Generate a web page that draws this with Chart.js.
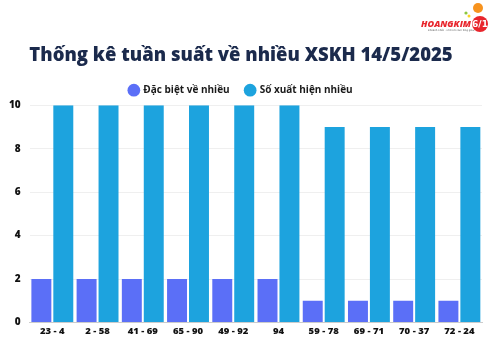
<!DOCTYPE html>
<html>
<head>
<meta charset="utf-8">
<script src="https://cdn.jsdelivr.net/npm/chart.js@4"></script>
<style>
  html, body { margin: 0; padding: 0; background: #ffffff; }
  #wrap { width: 495px; height: 345px; position: relative; }
</style>
</head>
<body>
<div id="wrap"><canvas id="c" width="495" height="345"></canvas></div>
<script>
const categories = ['23 - 4', '2 - 58', '41 - 69', '65 - 90', '49 - 92', '94', '59 - 78', '69 - 71', '70 - 37', '72 - 24'];
const specialCounts = [2, 2, 2, 2, 2, 2, 1, 1, 1, 1];
const appearCounts = [10, 10, 10, 10, 10, 10, 9, 9, 9, 9];
const yTicks = [0, 2, 4, 6, 8, 10];

// Brand mark in the top-right corner
const logoPlugin = {
  id: 'logo',
  afterDraw(chart) {
    const ctx = chart.ctx;
    ctx.save();
    ctx.fillStyle = '#f7931e';
    ctx.beginPath(); ctx.arc(478, 8, 5, 0, Math.PI * 2); ctx.fill();
    ctx.fillStyle = '#8cc63f';
    ctx.beginPath(); ctx.arc(466, 13, 1.6, 0, Math.PI * 2); ctx.fill();
    ctx.fillStyle = '#f9d423';
    ctx.beginPath(); ctx.arc(469, 16, 1.5, 0, Math.PI * 2); ctx.fill();
    ctx.fillStyle = '#e8262d';
    ctx.beginPath(); ctx.arc(480, 24, 8, 0, Math.PI * 2); ctx.fill();
    ctx.fillStyle = '#ffffff';
    ctx.font = 'bold 9px "DejaVu Sans"';
    ctx.textAlign = 'center'; ctx.textBaseline = 'middle';
    ctx.fillText('6/1', 480, 24.5);
    ctx.fillStyle = '#e8262d';
    ctx.font = 'italic 800 9px "Open Sans"';
    ctx.textAlign = 'right';
    ctx.fillText('HOANGKIM', 471, 24.5);
    ctx.fillStyle = '#555555';
    ctx.font = '2.5px "DejaVu Sans"';
    ctx.textAlign = 'left';
    ctx.fillText('Khoảnh khắc · Chớ trò cảm lòng giàu', 428, 30);
    ctx.restore();
  }
};

new Chart(document.getElementById('c'), {
  type: 'bar',
  data: {
    labels: categories,
    datasets: [
      {
        label: 'Đặc biệt về nhiều',
        data: specialCounts,
        backgroundColor: '#5b6ff7',
        borderWidth: 0,
        categoryPercentage: 0.97,
        barPercentage: 0.91
      },
      {
        label: 'Số xuất hiện nhiều',
        data: appearCounts,
        backgroundColor: '#1da3de',
        borderWidth: 0,
        categoryPercentage: 0.97,
        barPercentage: 0.91
      }
    ]
  },
  options: {
    responsive: false,
    animation: false,
    layout: { padding: { left: 0, right: 13, top: 0, bottom: 5 } },
    plugins: {
      title: {
        display: true,
        text: 'Thống kê tuần suất về nhiều XSKH 14/5/2025',
        color: '#1b2a4c',
        font: { family: 'Open Sans', size: 18.5, weight: '800' },
        padding: { top: 45, bottom: 2 }
      },
      legend: {
        display: true,
        labels: {
          usePointStyle: true,
          pointStyle: 'circle',
          boxWidth: 9,
          boxHeight: 9,
          color: '#1a1a1a',
          font: { family: 'Open Sans', size: 10, weight: '700' },
          padding: 16
        }
      },
      tooltip: { enabled: false }
    },
    scales: {
      x: {
        grid: { display: false, drawTicks: false },
        border: { display: true, color: '#cccccc' },
        ticks: { color: '#111111', padding: 3, font: { family: 'Open Sans', size: 9.5, weight: '800' }, maxRotation: 0, autoSkip: false }
      },
      y: {
        min: 0,
        max: 10,
        afterBuildTicks(axis) { axis.ticks = yTicks.map(v => ({ value: v })); },
        grid: { color: '#efefef', drawTicks: false },
        border: { display: false },
        ticks: { color: '#111111', padding: 9, font: { family: 'Open Sans', size: 10, weight: '800' } }
      }
    }
  },
  plugins: [logoPlugin]
});
</script>
</body>
</html>
